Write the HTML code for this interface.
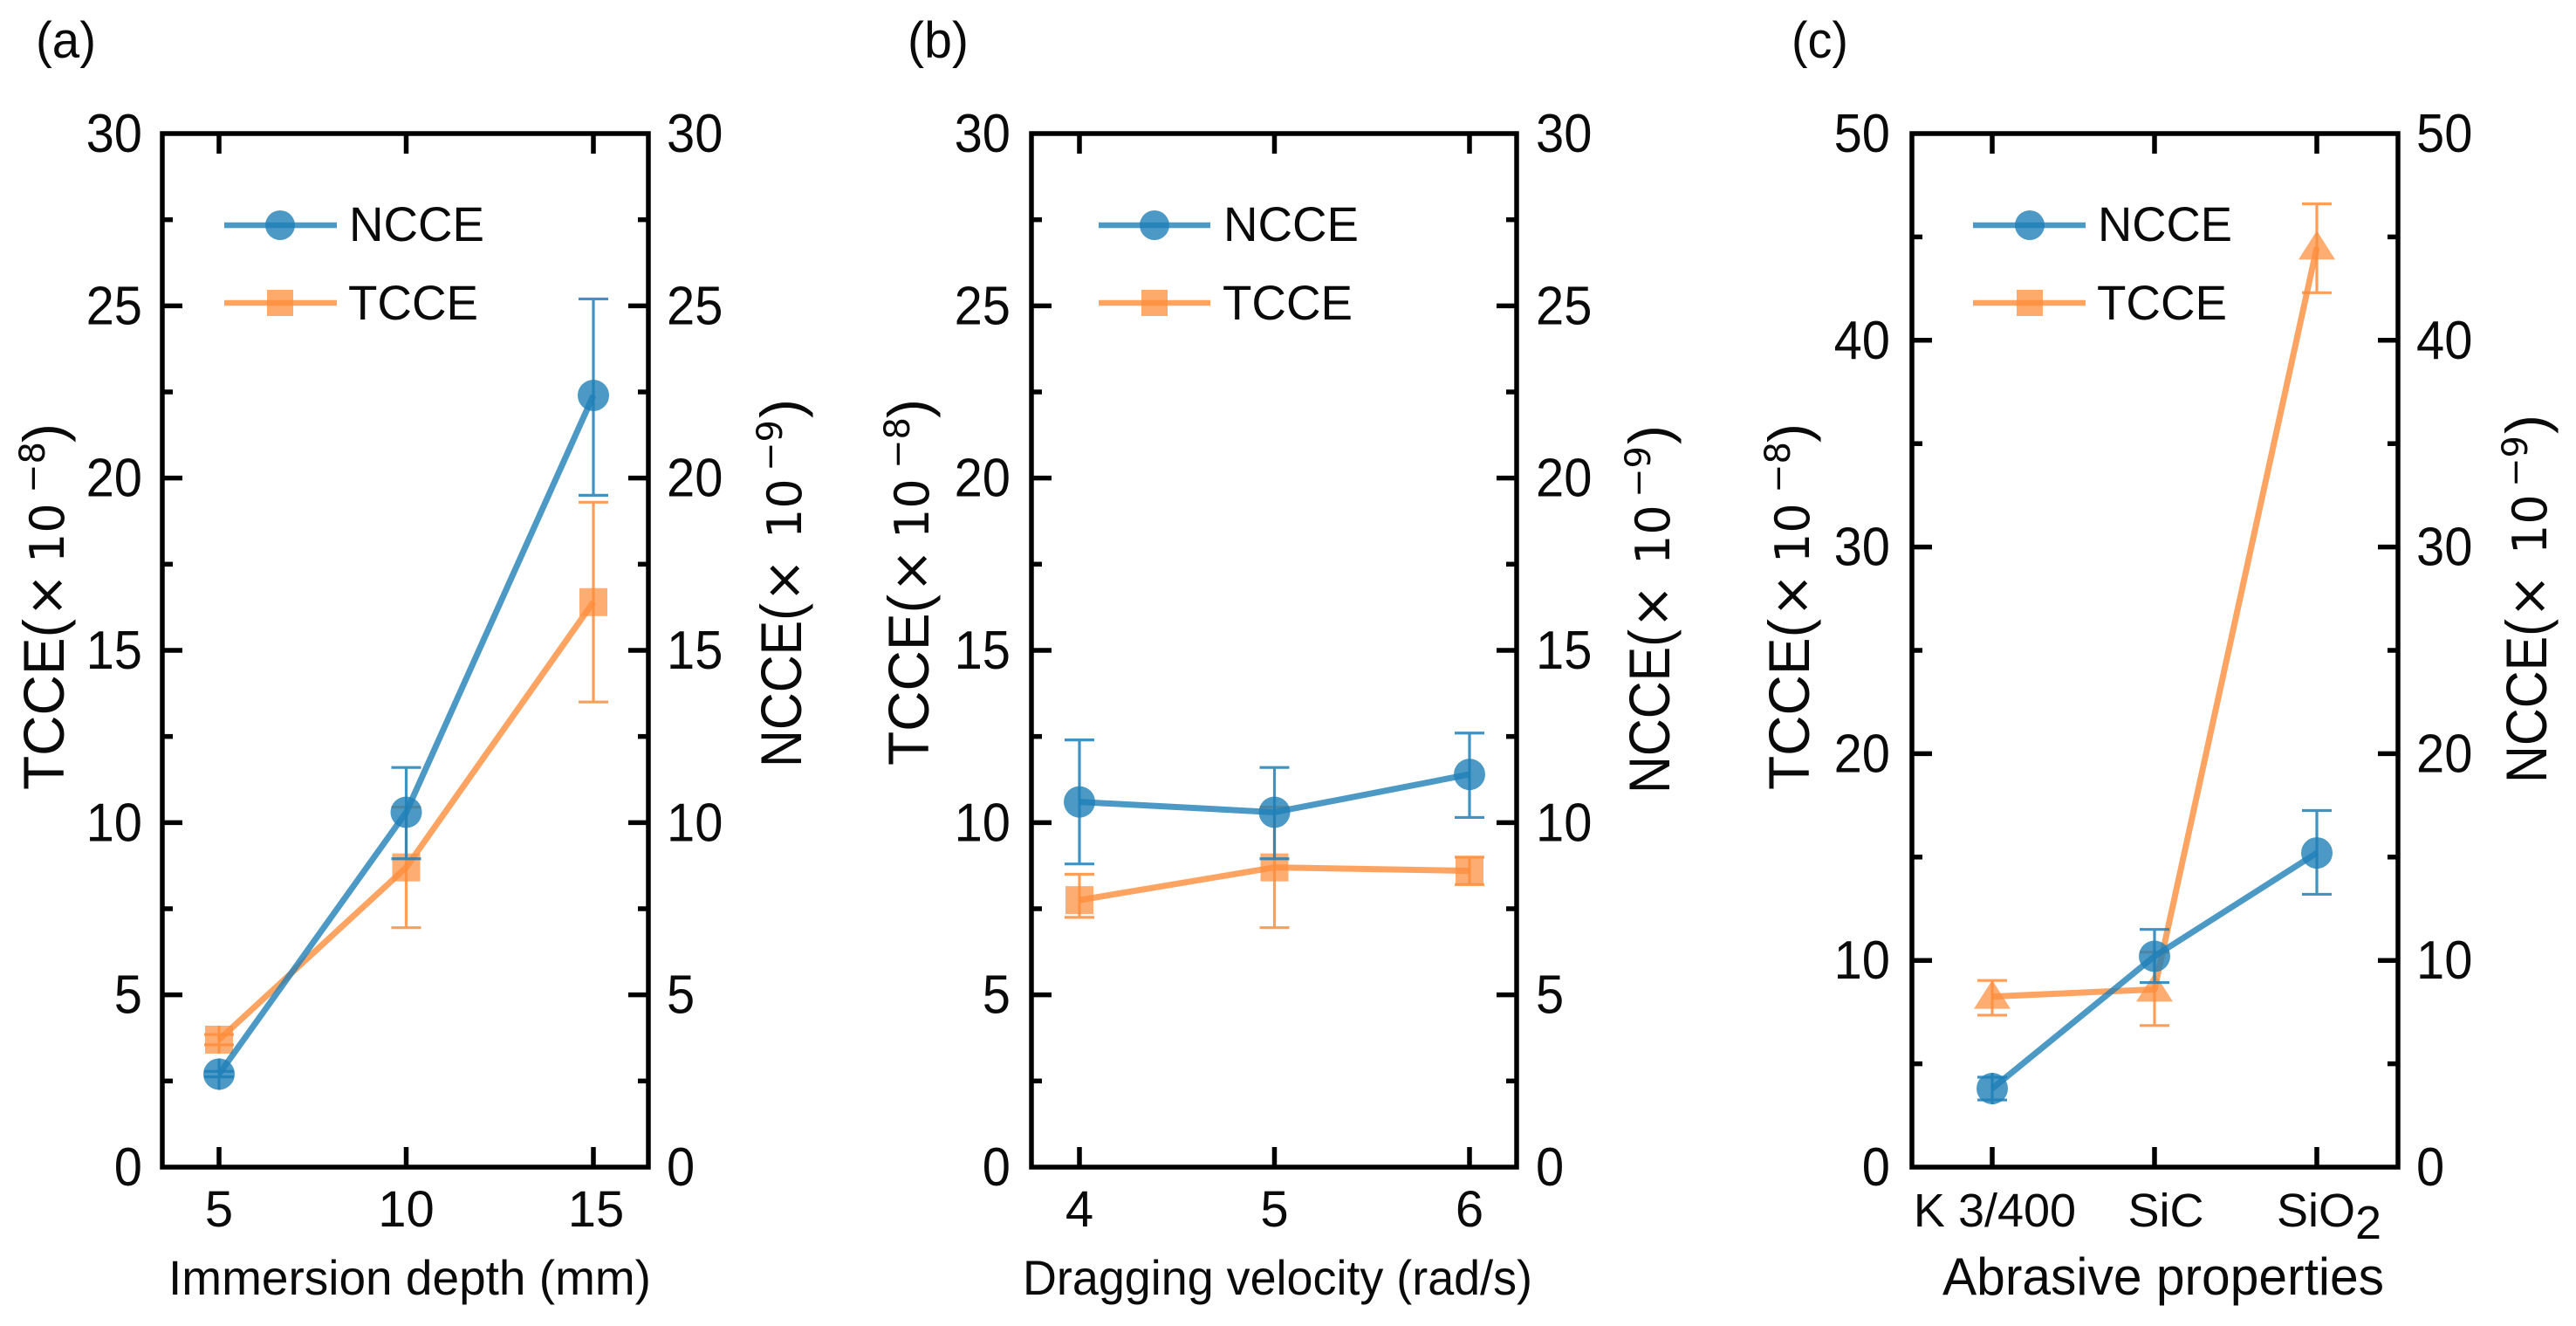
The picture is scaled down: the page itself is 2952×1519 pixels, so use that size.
<!DOCTYPE html>
<html lang="en">
<head>
<meta charset="utf-8">
<title>TCCE and NCCE charts</title>
<style>
html,body{margin:0;padding:0;background:#fff;}
svg{display:block;}
text{font-family:"Liberation Sans",Arial,sans-serif;fill:#0a0a0a;}
.dv{font-family:"DejaVu Sans",sans-serif;}
</style>
</head>
<body>
<svg id="figure" xmlns="http://www.w3.org/2000/svg" width="2952" height="1519" viewBox="0 0 2952 1519">
  <rect x="0" y="0" width="2952" height="1519" fill="#fff"/>
  <text x="41" y="66" font-size="58" textLength="69" lengthAdjust="spacingAndGlyphs">(a)</text>
  <text x="1040" y="66" font-size="58" textLength="70" lengthAdjust="spacingAndGlyphs">(b)</text>
  <text x="2053" y="66" font-size="58" textLength="65" lengthAdjust="spacingAndGlyphs">(c)</text>

  <text transform="translate(73,905) rotate(-90)" font-size="66"><tspan x="0" textLength="196" lengthAdjust="spacingAndGlyphs">TCCE(</tspan><tspan class="dv" x="198" font-size="60">×</tspan><tspan class="dv" x="260" font-size="54">10</tspan><tspan class="dv" x="340" font-size="40" dy="-22">−8</tspan><tspan x="398" dy="22">)</tspan></text>
  <text transform="translate(918,879) rotate(-90)" font-size="66"><tspan x="0" textLength="188" lengthAdjust="spacingAndGlyphs">NCCE(</tspan><tspan class="dv" x="189" font-size="60">×</tspan><tspan class="dv" x="262" font-size="54">10</tspan><tspan class="dv" x="339" font-size="40" dy="-22">−9</tspan><tspan x="400" dy="22">)</tspan></text>
  <text transform="translate(1064,877) rotate(-90)" font-size="66"><tspan x="0" textLength="196" lengthAdjust="spacingAndGlyphs">TCCE(</tspan><tspan class="dv" x="198" font-size="60">×</tspan><tspan class="dv" x="260" font-size="54">10</tspan><tspan class="dv" x="340" font-size="40" dy="-22">−8</tspan><tspan x="398" dy="22">)</tspan></text>
  <text transform="translate(1913,909) rotate(-90)" font-size="66"><tspan x="0" textLength="188" lengthAdjust="spacingAndGlyphs">NCCE(</tspan><tspan class="dv" x="189" font-size="60">×</tspan><tspan class="dv" x="262" font-size="54">10</tspan><tspan class="dv" x="339" font-size="40" dy="-22">−9</tspan><tspan x="400" dy="22">)</tspan></text>
  <text transform="translate(2073,905) rotate(-90)" font-size="66"><tspan x="0" textLength="196" lengthAdjust="spacingAndGlyphs">TCCE(</tspan><tspan class="dv" x="198" font-size="60">×</tspan><tspan class="dv" x="260" font-size="54">10</tspan><tspan class="dv" x="340" font-size="40" dy="-22">−8</tspan><tspan x="398" dy="22">)</tspan></text>
  <text transform="translate(2918,897) rotate(-90)" font-size="66"><tspan x="0" textLength="188" lengthAdjust="spacingAndGlyphs">NCCE(</tspan><tspan class="dv" x="189" font-size="60">×</tspan><tspan class="dv" x="262" font-size="54">10</tspan><tspan class="dv" x="339" font-size="40" dy="-22">−9</tspan><tspan x="400" dy="22">)</tspan></text>

  <text x="193" y="1483" font-size="56" textLength="553" lengthAdjust="spacingAndGlyphs">Immersion depth (mm)</text>
  <text x="1172" y="1483" font-size="56" textLength="584" lengthAdjust="spacingAndGlyphs">Dragging velocity (rad/s)</text>
  <text x="2226" y="1483" font-size="60" textLength="506" lengthAdjust="spacingAndGlyphs">Abrasive properties</text>

  <g>
    <line x1="257" x2="386" y1="258" y2="258" stroke="#1f7fb8" stroke-opacity=".8" stroke-width="6.5"/>
    <circle cx="321" cy="258" r="17" fill="#1f7fb8" fill-opacity=".8"/>
    <text x="400" y="276" font-size="56" textLength="155" lengthAdjust="spacingAndGlyphs">NCCE</text>
    <line x1="257" x2="386" y1="347" y2="347" stroke="#fd8d3c" stroke-opacity=".8" stroke-width="6.5"/>
    <rect x="306" y="332" width="30" height="30" fill="#fd8d3c" fill-opacity=".75"/>
    <text x="399" y="366" font-size="56" textLength="149" lengthAdjust="spacingAndGlyphs">TCCE</text>
  </g>
  <g>
    <line x1="1259" x2="1387" y1="258" y2="258" stroke="#1f7fb8" stroke-opacity=".8" stroke-width="6.5"/>
    <circle cx="1323" cy="258" r="17" fill="#1f7fb8" fill-opacity=".8"/>
    <text x="1402" y="276" font-size="56" textLength="155" lengthAdjust="spacingAndGlyphs">NCCE</text>
    <line x1="1259" x2="1387" y1="347" y2="347" stroke="#fd8d3c" stroke-opacity=".8" stroke-width="6.5"/>
    <rect x="1308" y="332" width="30" height="30" fill="#fd8d3c" fill-opacity=".75"/>
    <text x="1401" y="366" font-size="56" textLength="149" lengthAdjust="spacingAndGlyphs">TCCE</text>
  </g>
  <g>
    <line x1="2261" x2="2390" y1="258" y2="258" stroke="#1f7fb8" stroke-opacity=".8" stroke-width="6.5"/>
    <circle cx="2326" cy="258" r="17" fill="#1f7fb8" fill-opacity=".8"/>
    <text x="2404" y="276" font-size="56" textLength="154" lengthAdjust="spacingAndGlyphs">NCCE</text>
    <line x1="2261" x2="2390" y1="347" y2="347" stroke="#fd8d3c" stroke-opacity=".8" stroke-width="6.5"/>
    <rect x="2311" y="332" width="30" height="30" fill="#fd8d3c" fill-opacity=".75"/>
    <text x="2403" y="366" font-size="56" textLength="149" lengthAdjust="spacingAndGlyphs">TCCE</text>
  </g>
</svg>
<script>
// Data
const aCategories = ["5", "10", "15"];
const aNcce = [2.7, 10.3, 22.4];
const aNcceLow = [2.62, 8.95, 19.5];
const aNcceHigh = [2.78, 11.6, 25.2];
const aTcce = [3.7, 8.7, 16.4];
const aTcceLow = [3.55, 6.95, 13.5];
const aTcceHigh = [3.85, 10.45, 19.3];
const aYTicks = [0, 5, 10, 15, 20, 25, 30];

const bCategories = ["4", "5", "6"];
const bNcce = [10.6, 10.3, 11.4];
const bNcceLow = [8.8, 8.95, 10.15];
const bNcceHigh = [12.4, 11.6, 12.6];
const bTcce = [7.75, 8.7, 8.6];
const bTcceLow = [7.25, 6.95, 8.2];
const bTcceHigh = [8.5, 10.45, 9.0];
const bYTicks = [0, 5, 10, 15, 20, 25, 30];

const cCategories = ["K 3/400", "SiC", "SiO2"];
const cNcce = [3.8, 10.2, 15.2];
const cNcceLow = [3.25, 8.93, 13.2];
const cNcceHigh = [4.35, 11.5, 17.25];
const cTcce = [8.25, 8.6, 44.5];
const cTcceLow = [7.35, 6.85, 42.3];
const cTcceHigh = [9.03, 10.4, 46.6];
const cYTicks = [0, 10, 20, 30, 40, 50];

const BLUE = "#1f7fb8";
const ORANGE = "#fd8d3c";
const SVGNS = "http://www.w3.org/2000/svg";
const svg = document.getElementById("figure");
const TOP = 153, BOTTOM = 1337;

function el(tag, attrs, parent) {
  const e = document.createElementNS(SVGNS, tag);
  for (const k in attrs) e.setAttribute(k, attrs[k]);
  parent.appendChild(e);
  return e;
}

function drawPanel(cfg) {
  const yMax = cfg.yTicks[cfg.yTicks.length - 1];
  const yScale = v => BOTTOM - (v / yMax) * (BOTTOM - TOP);
  const xScale = i => cfg.xStart + i * cfg.xStep;

  const g = el("g", {}, svg);
  
  

  // Frame
  const frame = el("rect", {x: cfg.left, y: TOP, width: cfg.right - cfg.left, height: BOTTOM - TOP, fill: "none", stroke: "#000", "stroke-width": 5.5}, g);
  
  

  // Y ticks
  cfg.yTicks.forEach((t, i) => {
    const y = yScale(t);
    if (t !== 0 && t !== yMax) {
      const l1 = el("line", {x1: cfg.left, x2: cfg.left + 23, y1: y, y2: y, stroke: "#000", "stroke-width": 5.5}, g);
      
      
      const r1 = el("line", {x1: cfg.right - 23, x2: cfg.right, y1: y, y2: y, stroke: "#000", "stroke-width": 5.5}, g);
      
      
    }
    if (i < cfg.yTicks.length - 1) {
      const my = yScale((t + cfg.yTicks[i + 1]) / 2);
      const l2 = el("line", {x1: cfg.left, x2: cfg.left + 12, y1: my, y2: my, stroke: "#000", "stroke-width": 5.5}, g);
      
      
      const r2 = el("line", {x1: cfg.right - 12, x2: cfg.right, y1: my, y2: my, stroke: "#000", "stroke-width": 5.5}, g);
      
      
    }
    const width = String(t).length * 32.2;
    const lt = el("text", {x: cfg.leftLabelEnd, y: y + 21, "font-size": 62, "text-anchor": "end", textLength: width, lengthAdjust: "spacingAndGlyphs"}, g);
    lt.textContent = t;
    
    
    const rt = el("text", {x: cfg.rightLabelStart, y: y + 21, "font-size": 62, textLength: width, lengthAdjust: "spacingAndGlyphs"}, g);
    rt.textContent = t;
    
    
  });

  // X ticks and labels
  cfg.categories.forEach((c, i) => {
    const x = xScale(i);
    const b = el("line", {x1: x, x2: x, y1: BOTTOM, y2: BOTTOM - 23, stroke: "#000", "stroke-width": 5.5}, g);
    
    
    const tp = el("line", {x1: x, x2: x, y1: TOP, y2: TOP + 23, stroke: "#000", "stroke-width": 5.5}, g);
    
    
    const lab = el("text", {x: x + cfg.labelShift[i], y: 1405, "font-size": cfg.xLabelSize, "text-anchor": "middle"}, g);
    
    
    if (c === "SiO2") {
      lab.textContent = "SiO";
      const sub = el("tspan", {dy: 14, "font-size": 54}, lab);
      sub.textContent = "2";
    } else {
      lab.textContent = c;
    }
  });

  // Series
  drawSeries(g, xScale, yScale, cfg.tcce, cfg.tcceLow, cfg.tcceHigh, ORANGE, cfg.tcceMarker, "tcce");
  drawSeries(g, xScale, yScale, cfg.ncce, cfg.ncceLow, cfg.ncceHigh, BLUE, "circle", "ncce");
}

function drawSeries(g, xScale, yScale, values, low, high, color, marker, name) {
  const sg = el("g", {}, g);
  
  
  values.forEach((v, i) => {
    const x = xScale(i), y = yScale(v), yl = yScale(low[i]), yh = yScale(high[i]);
    const extend = marker === "triangle" ? 0 : 18;
    const top = Math.min(yh, y - (marker === "circle" ? extend : 16));
    const bot = Math.max(yl, y + (marker === "circle" ? extend : 16));
    const eb = el("path", {d: `M${x - 17} ${yh}H${x + 17}M${x} ${top}V${bot}M${x - 17} ${yl}H${x + 17}`, fill: "none", stroke: color, "stroke-opacity": .85, "stroke-width": 3.2}, sg);
    
    
    let m;
    if (marker === "circle") {
      m = el("circle", {cx: x, cy: y, r: 18}, sg);
    } else if (marker === "square") {
      m = el("rect", {x: x - 16, y: y - 16, width: 32, height: 32}, sg);
    } else {
      m = el("path", {d: `M${x} ${y - 19}L${x + 21} ${y + 14}H${x - 21}Z`}, sg);
    }
    m.setAttribute("fill", color);
    m.setAttribute("fill-opacity", color === BLUE ? .8 : .72);
    
    
  });
  const pts = values.map((v, i) => xScale(i) + "," + yScale(v)).join(" ");
  const line = el("polyline", {points: pts, fill: "none", stroke: color, "stroke-opacity": .8, "stroke-width": 7, "stroke-linejoin": "round"}, sg);
  
  
}

drawPanel({
  id: "panel-a", left: 186, right: 743, xStart: 251, xStep: 214.5,
  leftLabelEnd: 163, rightLabelStart: 764, xLabelSize: 58, labelShift: [0, 0, 3],
  categories: aCategories, yTicks: aYTicks,
  ncce: aNcce, ncceLow: aNcceLow, ncceHigh: aNcceHigh,
  tcce: aTcce, tcceLow: aTcceLow, tcceHigh: aTcceHigh, tcceMarker: "square"
});
drawPanel({
  id: "panel-b", left: 1182, right: 1738, xStart: 1237, xStep: 223.5,
  leftLabelEnd: 1158, rightLabelStart: 1760, xLabelSize: 58, labelShift: [0, 0, 0],
  categories: bCategories, yTicks: bYTicks,
  ncce: bNcce, ncceLow: bNcceLow, ncceHigh: bNcceHigh,
  tcce: bTcce, tcceLow: bTcceLow, tcceHigh: bTcceHigh, tcceMarker: "square"
});
drawPanel({
  id: "panel-c", left: 2191, right: 2748, xStart: 2283, xStep: 186,
  leftLabelEnd: 2166, rightLabelStart: 2769, xLabelSize: 54, labelShift: [3, 13, 14],
  categories: cCategories, yTicks: cYTicks,
  ncce: cNcce, ncceLow: cNcceLow, ncceHigh: cNcceHigh,
  tcce: cTcce, tcceLow: cTcceLow, tcceHigh: cTcceHigh, tcceMarker: "triangle"
});
</script>
</body>
</html>
